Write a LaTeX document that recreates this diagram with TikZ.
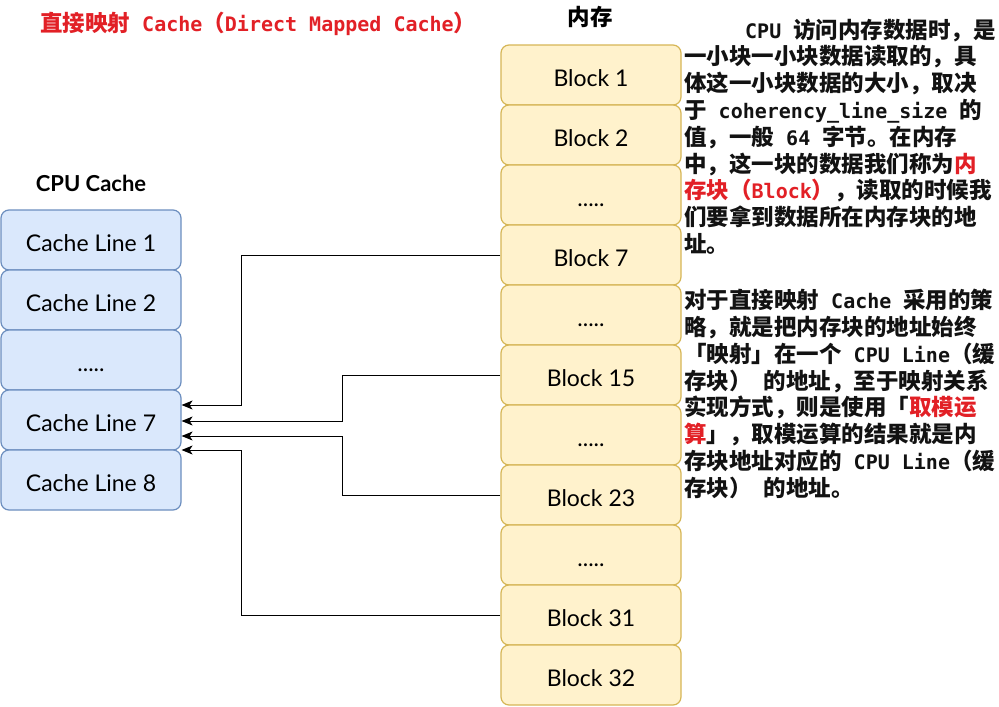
\documentclass[tikz,border=0pt]{standalone}
\usepackage{fontspec}
\setmainfont{Lato}
\newfontfamily\cjkfam{Noto Sans CJK SC}
\newfontfamily\monofam{DejaVu Sans Mono}
\usetikzlibrary{arrows.meta}
\definecolor{cacheFill}{HTML}{DAE8FC}
\definecolor{cacheLine}{HTML}{6C8EBF}
\definecolor{memFill}{HTML}{FFF2CC}
\definecolor{memLine}{HTML}{D6B656}
\definecolor{hiRed}{RGB}{226,32,38}
\newcommand\cjt[1]{{\cjkfam\bfseries\fontsize{22.5}{27}\selectfont #1}}
\newcommand\mnt[1]{{\monofam\bfseries\fontsize{20}{27}\selectfont #1}}
\tikzset{
  cachebox/.style={draw=cacheLine, fill=cacheFill, line width=1.2pt, rounded corners=8pt,
    minimum width=180pt, minimum height=60pt, inner sep=0pt, text height=22pt, text depth=0pt,
    font=\fontsize{23}{27}\selectfont},
  membox/.style={draw=memLine, fill=memFill, line width=1.2pt, rounded corners=8pt,
    minimum width=180pt, minimum height=60pt, inner sep=0pt, text height=22pt, text depth=0pt,
    font=\fontsize{23}{27}\selectfont},
  txt/.style={anchor=base west, inner sep=0pt, text=black!93},
  arr/.style={draw=black, line width=1pt, -{Stealth[length=11pt,width=9pt,inset=3pt]}},
  heading/.style={inner sep=0pt, font=\bfseries\fontsize{22}{26}\selectfont}
}
\begin{document}
\begin{tikzpicture}[x=1pt,y=-1pt]
\useasboundingbox (0,0) rectangle (999,707);
\fill[white] (0,0) rectangle (999,707);

% title
\node[txt, text=hiRed] (title) at (40,31) {\cjt{直接映射}\mnt{ Cache}\cjt{（}\mnt{Direct Mapped Cache}\cjt{）}};

% headings
\node[heading] (cachehead) at (91,183) {CPU Cache};
\node[inner sep=0pt] (memhead) at (590,17) {\cjt{内存}};

% cache lines
\node[cachebox] (c1) at (91,240) {Cache Line 1};
\node[cachebox] (c2) at (91,300) {Cache Line 2};
\node[cachebox] (c3) at (91,360) {.....};
\node[cachebox] (c7) at (91,420) {Cache Line 7};
\node[cachebox] (c8) at (91,480) {Cache Line 8};

% memory blocks
\node[membox] (b1)  at (591,75)  {Block 1};
\node[membox] (b2)  at (591,135) {Block 2};
\node[membox] (d1)  at (591,195) {.....};
\node[membox] (b7)  at (591,255) {Block 7};
\node[membox] (d2)  at (591,315) {.....};
\node[membox] (b15) at (591,375) {Block 15};
\node[membox] (d3)  at (591,435) {.....};
\node[membox] (b23) at (591,495) {Block 23};
\node[membox] (d4)  at (591,555) {.....};
\node[membox] (b31) at (591,615) {Block 31};
\node[membox] (b32) at (591,675) {Block 32};

% connectors
\draw[arr] (b7.west)  -| (241,405) -- ([yshift=15pt]c7.east);
\draw[arr] (b15.west) -| (342,421) -- ([yshift=-1pt]c7.east);
\draw[arr] (b23.west) -| (342,436) -- ([yshift=-16pt]c7.east);
\draw[arr] (b31.west) -| (241,450) -- ([yshift=-30pt]c7.east);

% paragraph 1
\node[txt] (p1l1) at (745,38.0)  {\mnt{CPU }\cjt{访问内存数据时，是}};
\node[txt] (p1l2) at (684,64.8)  {\cjt{一小块一小块数据读取的，具}};
\node[txt] (p1l3) at (684,91.6)  {\cjt{体这一小块数据的大小，取决}};
\node[txt] (p1l4) at (684,118.4) {\cjt{于}\mnt{ coherency\_line\_size }\cjt{的}};
\node[txt] (p1l5) at (684,145.2) {\cjt{值，一般}\mnt{ 64 }\cjt{字节。在内存}};
\node[txt] (p1l6) at (684,172.0) {\cjt{中，这一块的数据我们称为}\textcolor{hiRed}{\cjt{内}}};
\node[txt] (p1l7) at (684,198.8) {\textcolor{hiRed}{\cjt{存块（}\mnt{Block}\cjt{）}}\cjt{，读取的时候我}};
\node[txt] (p1l8) at (684,225.6) {\cjt{们要拿到数据所在内存块的地}};
\node[txt] (p1l9) at (684,252.4) {\cjt{址。}};

% paragraph 2
\node[txt] (p2l1) at (684,308.7) {\cjt{对于直接映射}\mnt{ Cache }\cjt{采用的策}};
\node[txt] (p2l2) at (684,335.5) {\cjt{略，就是把内存块的地址始终}};
\node[txt] (p2l3) at (684,362.3) {\cjt{「映射」在一个}\mnt{ CPU Line}\cjt{（缓}};
\node[txt] (p2l4) at (684,389.1) {\cjt{存块）}\mnt{ }\cjt{的地址，至于映射关系}};
\node[txt] (p2l5) at (684,415.9) {\cjt{实现方式，则是使用「}\textcolor{hiRed}{\cjt{取模运}}};
\node[txt] (p2l6) at (684,442.7) {\textcolor{hiRed}{\cjt{算}}\cjt{」，取模运算的结果就是内}};
\node[txt] (p2l7) at (684,469.5) {\cjt{存块地址对应的}\mnt{ CPU Line}\cjt{（缓}};
\node[txt] (p2l8) at (684,496.3) {\cjt{存块）}\mnt{ }\cjt{的地址。}};
\end{tikzpicture}
\end{document}
